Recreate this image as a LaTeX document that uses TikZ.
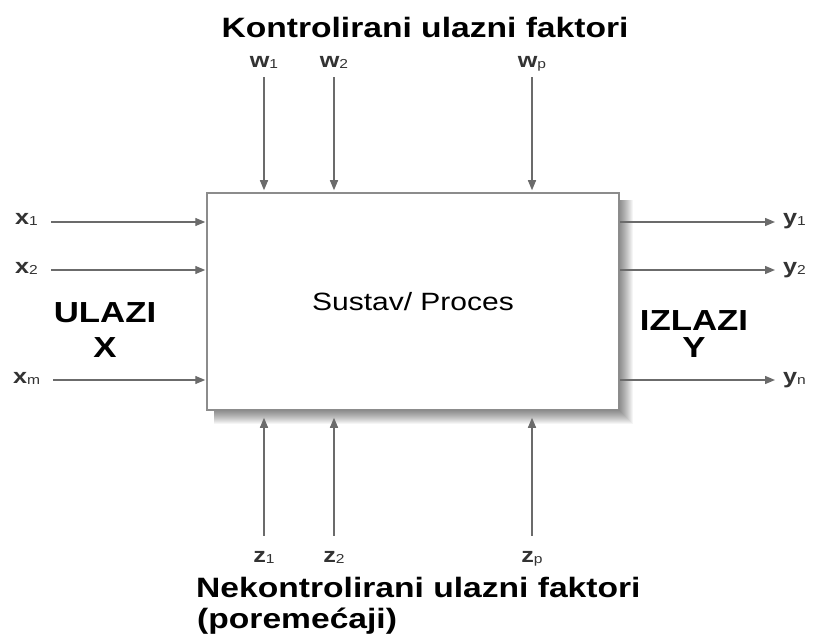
\documentclass[tikz,border=0pt]{standalone}
\usepackage{fontspec}
\setmainfont[FakeStretch=1.2]{Liberation Sans}
\usetikzlibrary{arrows.meta,backgrounds}
\newcommand\lsub[1]{\raisebox{-1pt}{\mdseries\fontsize{13}{13}\selectfont #1}}
\begin{document}
\begin{tikzpicture}[x=1pt,y=-1pt,
  arr/.style={draw=black!58, line width=1.3pt, -{Triangle[length=10pt,width=8pt]}},
  lab/.style={inner sep=0pt, font=\bfseries\fontsize{21}{21}\selectfont, text=black!80},
  hlab/.style={lab, text height=6pt, text depth=0pt},
  vlab/.style={lab, anchor=base, text height=14pt, text depth=0pt},
  big/.style={inner sep=0pt, font=\bfseries\fontsize{29}{29}\selectfont, anchor=base},
  heading/.style={inner sep=0pt, font=\bfseries\fontsize{28}{28}\selectfont},
  procbox/.style={draw=black!45, line width=1.5pt, fill=white, minimum width=412pt,
     minimum height=217pt, inner sep=0pt, font=\fontsize{25}{25}\selectfont},
  shadowlayer/.style={fill=black, opacity=0.04}
]
\useasboundingbox (0,0) rectangle (814,639);

\node[procbox] (box) at (413,301.5) {Sustav/ Proces};

\begin{scope}[on background layer]
  \fill[white] (0,0) rectangle (814,639);
  \foreach \k in {0,...,12}
    \path[shadowlayer]
      ([xshift=8pt, yshift=-8pt]box.north west) rectangle
      ([xshift={(1+\k)*1pt}, yshift={-(1+\k)*1pt}]box.south east);
\end{scope}

\node[heading, anchor=base] (title) at (425,38) {Kontrolirani ulazni faktori};
\node[heading, anchor=base west] (nek1) at (196,597) {Nekontrolirani ulazni faktori};
\node[heading, anchor=base west] (nek2) at (197,628) {(poremećaji)};

% top labels
\node[vlab] (w1) at (264,68) {w\lsub{1}};
\node[vlab] (w2) at (334,68) {w\lsub{2}};
\node[vlab] (wp) at (532,68) {w\lsub{p}};
% bottom labels
\node[vlab] (z1) at (264,562) {z\lsub{1}};
\node[vlab] (z2) at (334,562) {z\lsub{2}};
\node[vlab] (zp) at (532,562) {z\lsub{p}};
% left labels
\node[hlab, anchor=west] (x1) at (15,222) {x\lsub{1}};
\node[hlab, anchor=west] (x2) at (15,270) {x\lsub{2}};
\node[hlab, anchor=west] (xm) at (13,380) {x\lsub{m}};
% right labels
\node[hlab, anchor=west] (y1) at (783,222) {y\lsub{1}};
\node[hlab, anchor=west] (y2) at (783,270) {y\lsub{2}};
\node[hlab, anchor=west] (yn) at (783,380) {y\lsub{n}};

\node[big] (ulazi) at (105,322) {ULAZI};
\node[big] (xbig) at (105,357) {X};
\node[big] (izlazi) at (694,330) {IZLAZI};
\node[big] (ybig) at (694,357) {Y};

% connectors
\foreach \n in {w1,w2,wp}
  \draw[arr, shorten <=9pt, shorten >=2pt] (\n.south) -- (\n.south |- box.north);
\foreach \n in {z1,z2,zp}
  \draw[arr, shorten <=12pt, shorten >=7pt] (\n.north) -- (\n.north |- box.south);
\foreach \n in {x1,x2,xm}
  \draw[arr, shorten <=13pt, shorten >=1pt] (\n.east) -- (\n.east -| box.west);
\foreach \n in {y1,y2,yn}
  \draw[arr, shorten >=8pt] (\n.west -| box.east) -- (\n.west);
\end{tikzpicture}
\end{document}
